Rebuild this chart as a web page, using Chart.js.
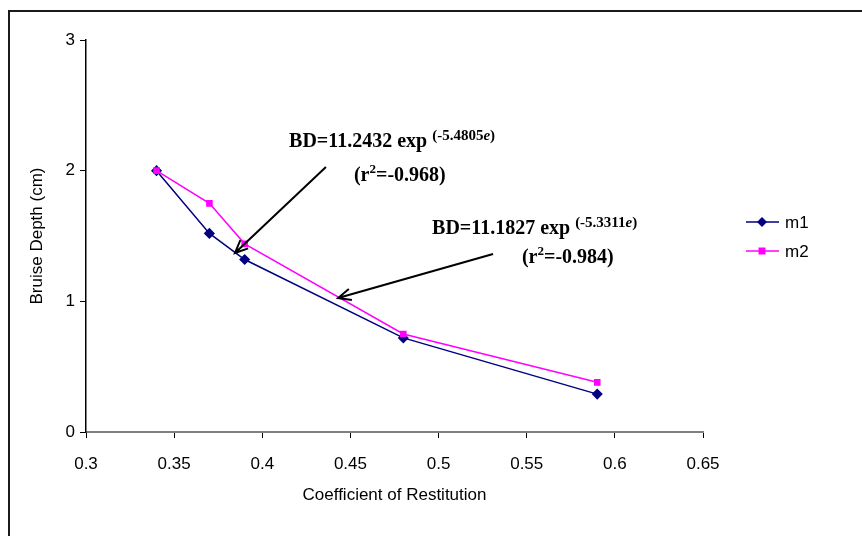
<!DOCTYPE html>
<html><head><meta charset="utf-8">
<script src="https://cdn.jsdelivr.net/npm/chart.js@4/dist/chart.umd.min.js"></script>
<style>html,body{margin:0;padding:0;background:#fff}canvas{display:block}</style>
</head><body>
<canvas id="c" width="862" height="536"></canvas>
<script>
const xValues = [0.34, 0.37, 0.39, 0.48, 0.59];
const m1Values = [2.0, 1.52, 1.32, 0.72, 0.29];
const m2Values = [2.0, 1.75, 1.44, 0.75, 0.38];
const seriesNames = ['m1', 'm2'];
const xTickValues = [0.3, 0.35, 0.4, 0.45, 0.5, 0.55, 0.6, 0.65];
const xTickLabels = ['0.3', '0.35', '0.4', '0.45', '0.5', '0.55', '0.6', '0.65'];
const yTickValues = [0, 1, 2, 3];
const yTickLabels = ['0', '1', '2', '3'];
const xTitle = 'Coefficient of Restitution';
const yTitle = 'Bruise Depth (cm)';

const annotationTexts = [
  { main: 'BD=11.2432 exp ', supPre: '(-5.4805', supE: 'e', supPost: ')', r2: '=-0.968)' },
  { main: 'BD=11.1827 exp ', supPre: '(-5.3311', supE: 'e', supPost: ')', r2: '=-0.984)' }
];
// anchors in data coordinates
const annotationAnchors = [
  { line1: [0.4152, 2.18], line2: [0.452, 1.92], from: [0.4361, 2.028], to: [0.3845, 1.37] },
  { line1: [0.4963, 1.515], line2: [0.5473, 1.293], from: [0.5309, 1.362], to: [0.443, 1.025] }
];

const toPoints = (xs, ys) => xs.map((x, i) => ({ x: x, y: ys[i] }));
const NAVY = '#000080', MAGENTA = '#FF00FF';
const SANS = "'Liberation Sans', Arial, sans-serif";
const SERIF = "'Liberation Serif', 'Times New Roman', serif";

const framePlugin = {
  id: 'frame',
  beforeDraw(chart) {
    const ctx = chart.ctx;
    ctx.save();
    ctx.fillStyle = '#fff';
    ctx.fillRect(0, 0, chart.width, chart.height);
    ctx.strokeStyle = '#1a1a1a';
    ctx.lineWidth = 2;
    ctx.strokeRect(9, 11, 900, 600);
    ctx.restore();
  }
};

function drawArrow(ctx, x1, y1, x2, y2) {
  ctx.beginPath();
  ctx.moveTo(x1, y1); ctx.lineTo(x2, y2);
  const a = Math.atan2(y2 - y1, x2 - x1);
  const L = 14, w = 0.42;
  ctx.moveTo(x2 - L * Math.cos(a - w), y2 - L * Math.sin(a - w));
  ctx.lineTo(x2, y2);
  ctx.lineTo(x2 - L * Math.cos(a + w), y2 - L * Math.sin(a + w));
  ctx.stroke();
}

const annotPlugin = {
  id: 'annot',
  afterDatasetsDraw(chart) {
    const ctx = chart.ctx, xs = chart.scales.x, ys = chart.scales.y;
    ctx.save();
    ctx.strokeStyle = '#000';
    ctx.fillStyle = '#000';
    ctx.lineWidth = 2;
    ctx.lineJoin = 'miter';
    annotationTexts.forEach((t, i) => {
      const a = annotationAnchors[i];
      drawArrow(ctx, xs.getPixelForValue(a.from[0]), ys.getPixelForValue(a.from[1]),
                xs.getPixelForValue(a.to[0]), ys.getPixelForValue(a.to[1]));
      ctx.textBaseline = 'alphabetic';
      ctx.textAlign = 'left';
      let x = xs.getPixelForValue(a.line1[0]), y = ys.getPixelForValue(a.line1[1]);
      ctx.font = 'bold 20px ' + SERIF;
      ctx.fillText(t.main, x, y);
      x += ctx.measureText(t.main).width;
      ctx.font = 'bold 15px ' + SERIF;
      ctx.fillText(t.supPre, x, y - 7);
      x += ctx.measureText(t.supPre).width;
      ctx.font = 'italic bold 15px ' + SERIF;
      ctx.fillText(t.supE, x, y - 7);
      x += ctx.measureText(t.supE).width;
      ctx.font = 'bold 15px ' + SERIF;
      ctx.fillText(t.supPost, x, y - 7);
      x = xs.getPixelForValue(a.line2[0]); y = ys.getPixelForValue(a.line2[1]);
      ctx.font = 'bold 20px ' + SERIF;
      ctx.fillText('(r', x, y);
      x += ctx.measureText('(r').width;
      ctx.font = 'bold 13px ' + SERIF;
      ctx.fillText('2', x, y - 8);
      x += ctx.measureText('2').width;
      ctx.font = 'bold 20px ' + SERIF;
      ctx.fillText(t.r2, x, y);
    });
    // legend
    const rows = [222, 251];
    chart.data.datasets.forEach((ds, i) => {
      const yy = rows[i];
      ctx.strokeStyle = ds.borderColor;
      ctx.lineWidth = 1.5;
      ctx.beginPath(); ctx.moveTo(746, yy); ctx.lineTo(779, yy); ctx.stroke();
      ctx.fillStyle = ds.pointBackgroundColor;
      ctx.beginPath();
      if (ds.pointStyle === 'rectRot') {
        ctx.moveTo(762, yy - 5); ctx.lineTo(767, yy); ctx.lineTo(762, yy + 5); ctx.lineTo(757, yy);
      } else {
        ctx.rect(758.5, yy - 3.5, 7, 7);
      }
      ctx.closePath(); ctx.fill();
      ctx.fillStyle = '#000';
      ctx.font = '17px ' + SANS;
      ctx.textBaseline = 'middle';
      ctx.fillText(ds.label, 785, yy + 1);
    });
    ctx.restore();
  }
};

new Chart(document.getElementById('c'), {
  type: 'line',
  data: {
    datasets: [
      { label: seriesNames[0], data: toPoints(xValues, m1Values), borderColor: NAVY, backgroundColor: NAVY,
        pointBackgroundColor: NAVY, pointBorderColor: NAVY, pointStyle: 'rectRot', pointRadius: 4.5,
        borderWidth: 1.5, order: 1, tension: 0 },
      { label: seriesNames[1], data: toPoints(xValues, m2Values), borderColor: MAGENTA, backgroundColor: MAGENTA,
        pointBackgroundColor: MAGENTA, pointBorderColor: MAGENTA, pointStyle: 'rect', pointRadius: 3.6,
        borderWidth: 1.5, order: 0, tension: 0 }
    ]
  },
  options: {
    responsive: false,
    animation: false,
    events: [],
    layout: { padding: { left: 0, top: 40, right: 159, bottom: 0 } },
    plugins: { legend: { display: false }, tooltip: { enabled: false } },
    scales: {
      x: {
        type: 'linear', min: 0.3, max: 0.65,
        afterBuildTicks: (s) => { s.ticks = xTickValues.map(v => ({ value: v })); },
        afterFit: (s) => { s.height = 104; },
        ticks: { callback: (v, i) => xTickLabels[i], color: '#000', font: { family: SANS, size: 17 }, padding: 16, maxRotation: 0, autoSkip: false },
        grid: { drawOnChartArea: false, drawTicks: true, tickLength: 6, color: '#000', tickColor: '#000' },
        border: { display: true, color: '#808080', width: 2 },
        title: { display: true, text: xTitle, color: '#000', font: { family: SANS, size: 17 }, padding: { top: 0, bottom: 30 } }
      },
      y: {
        type: 'linear', min: 0, max: 3,
        afterBuildTicks: (s) => { s.ticks = yTickValues.map(v => ({ value: v })); },
        afterFit: (s) => { s.width = 86; },
        ticks: { callback: (v, i) => yTickLabels[i], color: '#000', font: { family: SANS, size: 17 }, padding: 5 },
        grid: { drawOnChartArea: false, drawTicks: true, tickLength: 6, color: '#000', tickColor: '#000' },
        border: { display: true, color: '#000', width: 1.5 },
        title: { display: true, text: yTitle, color: '#000', font: { family: SANS, size: 17 }, padding: { top: 27, bottom: 0 } }
      }
    }
  },
  plugins: [framePlugin, annotPlugin]
});
</script>
</body></html>
